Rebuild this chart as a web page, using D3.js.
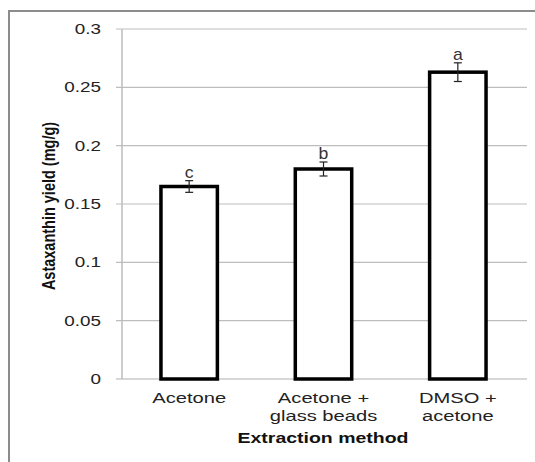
<!DOCTYPE html>
<html>
<head>
<meta charset="utf-8">
<script src="https://cdn.jsdelivr.net/npm/d3@7"></script>
<style>
  body { margin: 0; background: #fff; }
  text { font-family: "Liberation Sans", Arial, sans-serif; }
</style>
</head>
<body>
<div id="chart"></div>
<script>
// extraction methods and their astaxanthin yield
const methods = ["Acetone", "Acetone + glass beads", "DMSO + acetone"];
const labelLines = [["Acetone"], ["Acetone +", "glass beads"], ["DMSO +", "acetone"]];
const yields = [0.165, 0.180, 0.263];
const errors = [0.005, 0.006, 0.008];
const letters = ["c", "b", "a"];
const yTicks = [0, 0.05, 0.1, 0.15, 0.2, 0.25, 0.3];

const W = 535, H = 462;
const svg = d3.select("#chart").append("svg")
    .attr("width", W)
    .attr("height", H);

svg.append("rect").attr("width", W).attr("height", H).attr("fill", "#fff");

// outer frame (only top and left show)
svg.append("path")
    .attr("d", `M9,${H} L9,11 L${W},11`)
    .attr("fill", "none")
    .attr("stroke", "#8c8c8c")
    .attr("stroke-width", 2);

const plotLeft = 122, plotRight = 525, plotTop = 29, plotBottom = 379;

const x = d3.scaleBand().domain(methods).range([plotLeft, plotRight]).paddingInner(0.58).paddingOuter(0.29);
const y = d3.scaleLinear().domain([0, 0.3]).range([plotBottom, plotTop]);

const sx = 1.3; // text in the picture is stretched sideways

// gridlines
svg.append("g").selectAll("line").data(yTicks).join("line")
    .attr("x1", plotLeft - 6).attr("x2", plotRight + 2)
    .attr("y1", d => y(d)).attr("y2", d => y(d))
    .attr("stroke", d => d == 0 ? "#b0b0b0" : "#bdbdbd")
    .attr("stroke-width", 1.2);

// y axis line
svg.append("line")
    .attr("x1", plotLeft).attr("x2", plotLeft)
    .attr("y1", plotTop).attr("y2", plotBottom)
    .attr("stroke", "#bdbdbd").attr("stroke-width", 1.5);

// y tick labels
svg.append("g").selectAll("text").data(yTicks).join("text")
    .attr("transform", d => `translate(101,${y(d) + 5}) scale(${sx},1)`)
    .attr("text-anchor", "end")
    .attr("font-size", 14.5)
    .attr("fill", "#222")
    .text(d => d3.format("")(d));

// bars
svg.append("g").selectAll("rect").data(methods).join("rect")
    .attr("x", d => x(d))
    .attr("y", (d, i) => y(yields[i]))
    .attr("width", x.bandwidth())
    .attr("height", (d, i) => y(0) - y(yields[i]))
    .attr("fill", "#fff")
    .attr("stroke", "#000")
    .attr("stroke-width", 3.5);

// error bars
const eb = svg.append("g").attr("stroke", "#222").attr("stroke-width", 1.2);
methods.forEach((m, i) => {
    const cx = x(m) + x.bandwidth() / 2;
    const y1 = y(yields[i] + errors[i]), y2 = y(yields[i] - errors[i]);
    eb.append("line").attr("x1", cx).attr("x2", cx).attr("y1", y1).attr("y2", y2);
    eb.append("line").attr("x1", cx - 4).attr("x2", cx + 4).attr("y1", y1).attr("y2", y1);
    eb.append("line").attr("x1", cx - 4).attr("x2", cx + 4).attr("y1", y2).attr("y2", y2);
});

// significance letters
svg.append("g").selectAll("text").data(methods).join("text")
    .attr("transform", (d, i) => `translate(${x(d) + x.bandwidth() / 2},${y(yields[i] + errors[i]) - 3}) scale(1.1,1)`)
    .attr("text-anchor", "middle")
    .attr("font-size", 16)
    .attr("font-family", "DejaVu Sans")
    .attr("fill", "#333")
    .text((d, i) => letters[i]);

// x category labels
methods.forEach((m, i) => {
    const cx = x(m) + x.bandwidth() / 2;
    labelLines[i].forEach((line, j) => {
        svg.append("text")
            .attr("transform", `translate(${cx},${403 + j * 18}) scale(${sx},1)`)
            .attr("text-anchor", "middle")
            .attr("font-size", 15.5)
            .attr("fill", "#222")
            .text(line);
    });
});

// axis titles
svg.append("text")
    .attr("transform", `translate(323,443) scale(${sx},1)`)
    .attr("text-anchor", "middle")
    .attr("font-size", 15)
    .attr("font-weight", "bold")
    .attr("fill", "#111")
    .text("Extraction method");

svg.append("text")
    .attr("transform", `translate(55,206) scale(${sx},1) rotate(-90)`)
    .attr("text-anchor", "middle")
    .attr("font-size", 14.5)
    .attr("font-weight", "bold")
    .attr("fill", "#111")
    .text("Astaxanthin yield (mg/g)");
</script>
</body>
</html>
